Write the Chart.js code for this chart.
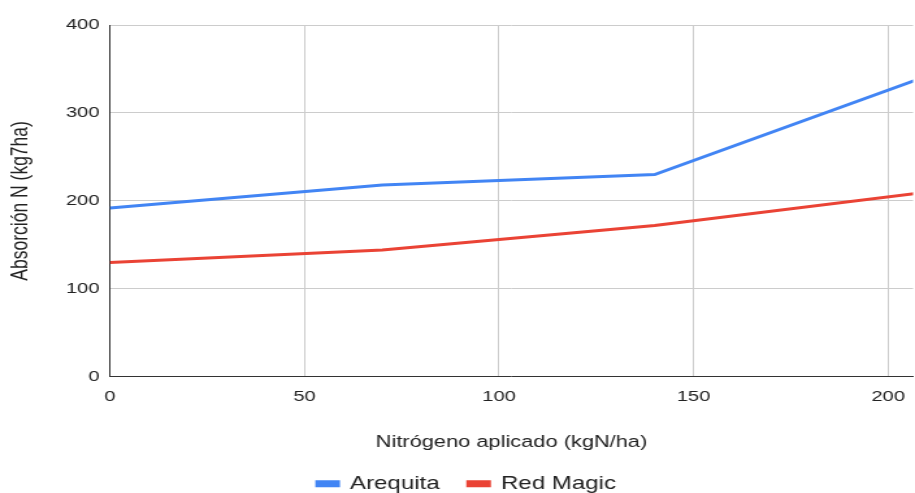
<!DOCTYPE html>
<html>
<head>
<meta charset="utf-8">
<script src="https://cdn.jsdelivr.net/npm/chart.js@4.4.0/dist/chart.umd.min.js"></script>
<style>
  html, body { margin: 0; padding: 0; background: #fff; overflow: hidden; }
  /* the reference is drawn wide: render narrower and stretch horizontally */
  #wrap { width: 704px; height: 493px; transform: scaleX(1.2997); transform-origin: 0 0; }
</style>
</head>
<body>
<div id="wrap"><canvas id="chart"></canvas></div>
<script>
// Nitrogen applied (kgN/ha) and N uptake per variety
var nitrogenDoses = [0, 70, 140, 210];
var arequitaValues = [192, 218, 230, 342];
var redMagicValues = [130, 144, 172, 210];
var xTickValues = [0, 50, 100, 150, 200];
var yTickValues = [0, 100, 200, 300, 400];

function toPoints(xs, ys) {
    return xs.map(function (x, i) { return { x: x, y: ys[i] }; });
}

Chart.defaults.font.family = '"Liberation Sans", Arial, sans-serif';
Chart.defaults.color = '#222';

// nudge the legend a bit to the right, like the original
var legendShift = {
    id: 'legendShift',
    afterLayout: function (chart) {
        chart.legend.left += 7;
        chart.legend.right += 7;
    }
};

var ctx = document.getElementById('chart').getContext('2d');
var chart = new Chart(ctx, {
    type: 'line',
    data: {
        datasets: [{
            label: 'Arequita',
            data: toPoints(nitrogenDoses, arequitaValues),
            borderColor: '#4285F4',
            backgroundColor: '#4285F4',
            borderWidth: 3,
            pointRadius: 0,
            tension: 0
        }, {
            label: 'Red Magic',
            data: toPoints(nitrogenDoses, redMagicValues),
            borderColor: '#EA4335',
            backgroundColor: '#EA4335',
            borderWidth: 3,
            pointRadius: 0,
            tension: 0
        }]
    },
    plugins: [legendShift],
    options: {
        responsive: true,
        maintainAspectRatio: false,
        animation: false,
        layout: { padding: { top: 25, right: 0, left: 0, bottom: -10 } },
        plugins: {
            tooltip: { enabled: false },
            legend: {
                position: 'bottom',
                labels: {
                    boxWidth: 16,
                    boxHeight: 4,
                    padding: 22,
                    font: { size: 18.5 },
                    color: '#222'
                }
            }
        },
        scales: {
            x: {
                type: 'linear',
                min: 0,
                max: 206.4,
                afterBuildTicks: function (scale) {
                    scale.ticks = xTickValues.map(function (v) { return { value: v }; });
                },
                afterFit: function (scale) { scale.paddingRight = 0; },
                ticks: { padding: 11, font: { size: 15.5 }, maxRotation: 0 },
                grid: { color: '#cccccc', drawTicks: false },
                border: { color: '#333', width: 1 },
                title: {
                    display: true,
                    text: 'Nitrógeno aplicado (kgN/ha)',
                    font: { size: 16.8 },
                    padding: { top: 15, bottom: 0 }
                }
            },
            y: {
                min: 0,
                max: 400,
                afterBuildTicks: function (scale) {
                    scale.ticks = yTickValues.map(function (v) { return { value: v }; });
                },
                afterFit: function (scale) { scale.width = 84.6; },
                ticks: { padding: 8, font: { size: 15.5 } },
                grid: { color: '#cccccc', drawTicks: false },
                border: { color: '#333', width: 1 },
                title: {
                    display: true,
                    text: 'Absorción N (kg7ha)',
                    font: { size: 17.5 },
                    padding: { top: 6, bottom: 0 }
                }
            }
        }
    }
});
</script>
</body>
</html>
